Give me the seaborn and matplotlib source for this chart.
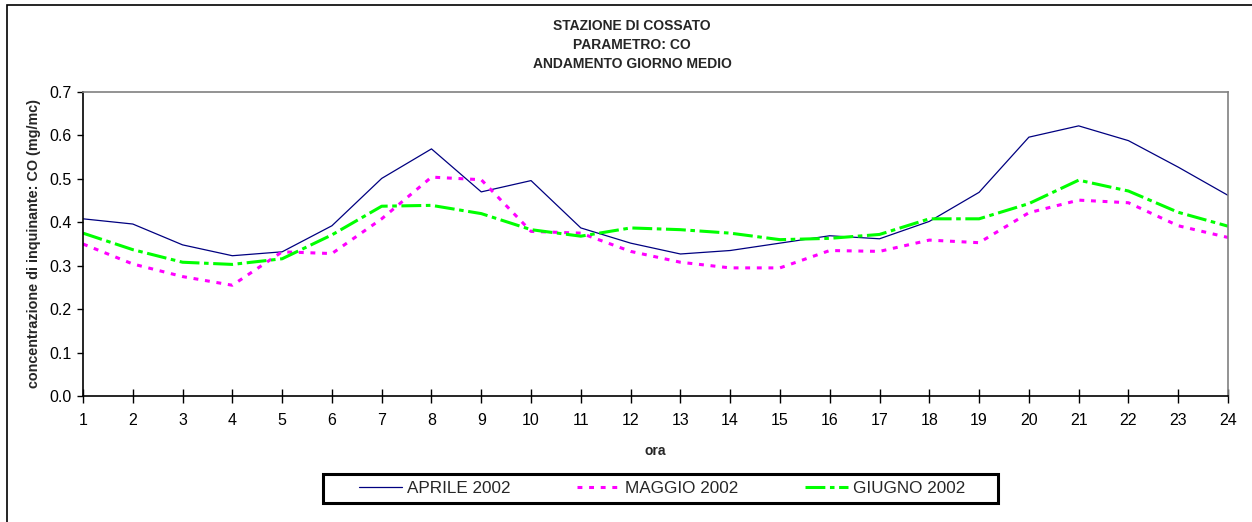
import numpy as np
import pandas as pd
import matplotlib
matplotlib.use("Agg")
import matplotlib.pyplot as plt
import seaborn as sns
from matplotlib.patches import Rectangle

ore = list(range(1, 25))
aprile = [0.408, 0.396, 0.348, 0.323, 0.332, 0.392, 0.501, 0.569, 0.470, 0.496, 0.387, 0.352,
          0.327, 0.335, 0.352, 0.369, 0.362, 0.402, 0.469, 0.596, 0.622, 0.588, 0.527, 0.462]
maggio = [0.350, 0.304, 0.275, 0.255, 0.332, 0.328, 0.408, 0.504, 0.498, 0.379, 0.375, 0.333,
          0.308, 0.295, 0.295, 0.335, 0.333, 0.359, 0.353, 0.422, 0.451, 0.445, 0.392, 0.365]
giugno = [0.375, 0.337, 0.308, 0.303, 0.316, 0.371, 0.437, 0.439, 0.420, 0.383, 0.368, 0.387,
          0.383, 0.375, 0.360, 0.363, 0.372, 0.408, 0.408, 0.443, 0.497, 0.472, 0.423, 0.391]
serie = ["APRILE 2002", "MAGGIO 2002", "GIUGNO 2002"]
y_ticks = [0.0, 0.1, 0.2, 0.3, 0.4, 0.5, 0.6, 0.7]

sns.set_theme(style="white")
plt.rcParams['font.family'] = ['Liberation Sans', 'DejaVu Sans']

W, H = 1252, 522
fig = plt.figure(figsize=(W / 100, H / 100), dpi=100)
ax = fig.add_axes([83 / W, 1 - 396 / H, (1228 - 83) / W, (396 - 92) / H])

# figure frame
fig.patches.append(Rectangle((7 / W, -0.05), 1.2, 1 - 5 / H + 0.05, transform=fig.transFigure,
                             fill=False, edgecolor='black', linewidth=1.2, zorder=0))

styles = [
    dict(color='#000080', linewidth=0.9, linestyle='-'),
    dict(color='#FF00FF', linewidth=2.2, linestyle=(0, (1.6, 2.2))),
    dict(color='#00FF00', linewidth=2.2, linestyle=(0, (6.5, 1.5, 1.5, 1.5))),
]
for name, vals, st in zip(serie, [aprile, maggio, giugno], styles):
    df = pd.DataFrame({"ora": ore, "val": vals})
    sns.lineplot(data=df, x="ora", y="val", ax=ax, legend=False, label=name, **st)

ax.set_xlim(1, 24)
ax.set_ylim(0, 0.7)
ax.set_xticks(ore)
ax.set_xticklabels([str(o) for o in ore], fontsize=11.5)
ax.set_yticks(y_ticks)
ax.set_yticklabels([f"{v:.1f}" for v in y_ticks], fontsize=11.5)
ax.tick_params(axis='x', direction='inout', length=10, width=1, colors='black', pad=7, bottom=True)
ax.tick_params(axis='y', direction='out', length=4.3, width=1, colors='black', pad=4, left=True)
for s in ['left', 'bottom']:
    ax.spines[s].set_color('black')
    ax.spines[s].set_linewidth(1.2)
for s in ['top', 'right']:
    ax.spines[s].set_color('#808080')
    ax.spines[s].set_linewidth(1.2)

ax.set_xlabel("ora", fontsize=10, fontweight='bold', labelpad=12)
ax.set_ylabel("concentrazione di inquinante: CO (mg/mc)", fontsize=10.4, fontweight='bold', labelpad=6)
ax.grid(False)

fig.text(632 / W, 1 - 45 / H, "STAZIONE DI COSSATO\nPARAMETRO: CO\nANDAMENTO GIORNO MEDIO",
         ha='center', va='center', fontsize=10, fontweight='bold', linespacing=1.45)

handles = ax.get_lines()[:3]
leg = fig.legend(handles, serie, loc='center', bbox_to_anchor=(662 / W, 1 - 488.5 / H),
                 ncol=3, fontsize=12.3, handlelength=2.5, handletextpad=0.3, columnspacing=3.9,
                 frameon=False, borderpad=0.2, borderaxespad=0)
fig.patches.append(Rectangle((323 / W, 1 - 503 / H), (998 - 323) / W, (503 - 474) / H,
                             transform=fig.transFigure, fill=False, edgecolor='black',
                             linewidth=2.2, zorder=1))

fig.savefig("out.png", dpi=100)
